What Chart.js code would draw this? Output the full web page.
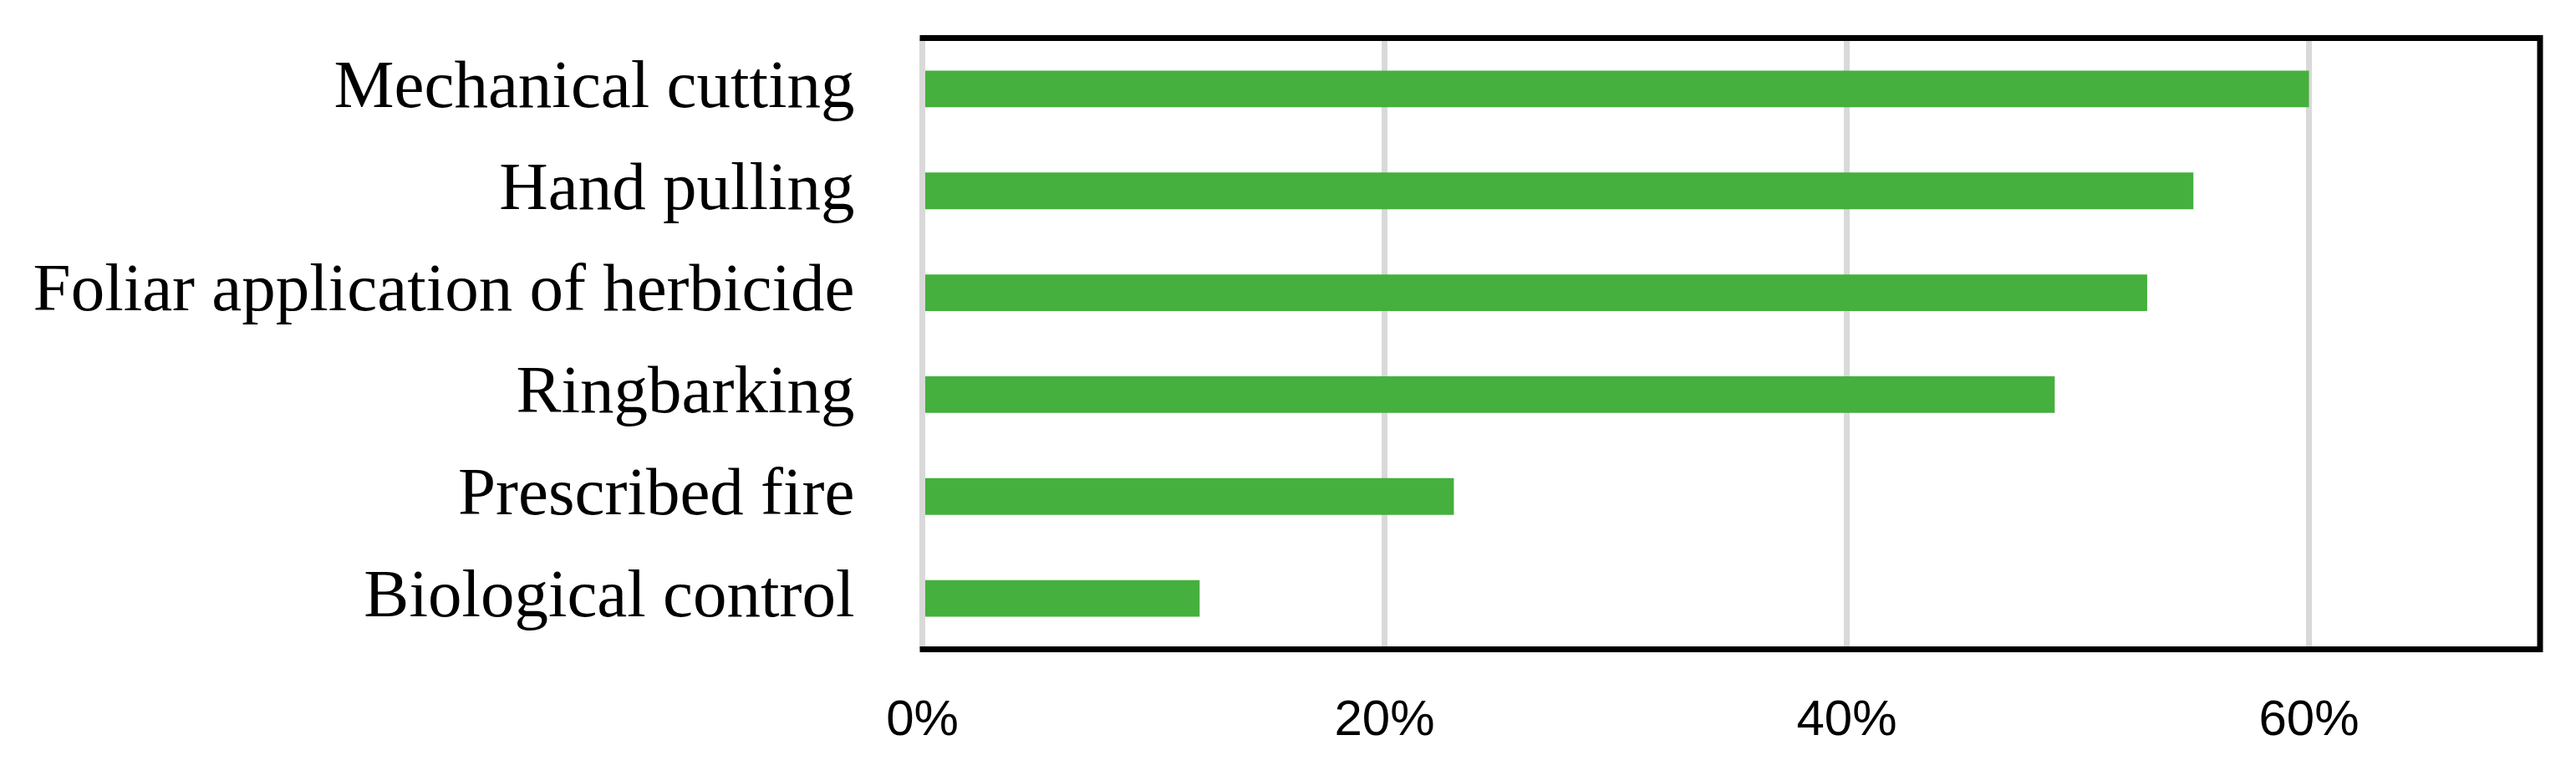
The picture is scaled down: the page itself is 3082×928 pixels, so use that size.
<!DOCTYPE html>
<html>
<head>
<meta charset="utf-8">
<script src="https://cdn.jsdelivr.net/npm/chart.js@4"></script>
<style>
  html, body { margin: 0; padding: 0; background: #fff; overflow: hidden; }
  #wrap { width: 3082px; height: 928px; }
</style>
</head>
<body>
<div id="wrap"><canvas id="myChart"></canvas></div>
<script>
// control methods (top to bottom)
const methods = [
  'Mechanical cutting',
  'Hand pulling',
  'Foliar application of herbicide',
  'Ringbarking',
  'Prescribed fire',
  'Biological control'
];
// share of respondents, %
const shares = [60, 55, 53, 49, 23, 12];
// x axis ticks shown
const xTicks = [0, 20, 40, 60];
const xMax = 70;

// black frame on top, right and bottom of the plot area
const framePlugin = {
  id: 'frame',
  afterDraw(chart) {
    const a = chart.chartArea;
    const ctx = chart.ctx;
    ctx.save();
    ctx.strokeStyle = '#000';
    ctx.lineWidth = 7;
    ctx.lineJoin = 'miter';
    ctx.beginPath();
    ctx.moveTo(a.left - 3, a.top);
    ctx.lineTo(a.right, a.top);
    ctx.lineTo(a.right, a.bottom);
    ctx.lineTo(a.left - 3, a.bottom);
    ctx.stroke();
    ctx.restore();
  }
};

const data = {
  labels: methods,
  datasets: [{
    data: shares,
    backgroundColor: '#45B03D',
    borderWidth: 0,
    categoryPercentage: 1,
    barPercentage: 0.36
  }]
};

const scales = {
  x: {
    min: 0,
    max: xMax,
    afterBuildTicks(s) {
      s.ticks = xTicks.map(v => ({ value: v }));
    },
    afterFit(s) {
      s.height = 928 - 776.5;
      s.paddingLeft = 0;
      s.paddingRight = 0;
    },
    ticks: {
      padding: 50,
      color: '#000',
      maxRotation: 0,
      font: { family: '"Liberation Sans", Arial, sans-serif', size: 60 },
      callback: v => v + '%'
    },
    grid: {
      color: '#d9d9d9',
      lineWidth: 7,
      drawTicks: false
    },
    border: { display: false }
  },
  y: {
    afterFit(s) {
      s.width = 1103.5;
      s.paddingTop = 0;
      s.paddingBottom = 0;
    },
    ticks: {
      padding: 81,
      color: '#000',
      font: { family: '"Liberation Serif", "Times New Roman", serif', size: 81 }
    },
    grid: { display: false, drawTicks: false },
    border: { display: false }
  }
};

const config = {
  type: 'bar',
  data,
  options: {
    indexAxis: 'y',
    responsive: true,
    maintainAspectRatio: false,
    animation: false,
    layout: { padding: { top: 45.5, right: 43, left: 0, bottom: 0 } },
    scales: scales,
    plugins: {
      legend: { display: false },
      tooltip: { enabled: false }
    }
  },
  plugins: [framePlugin]
};

const myChart = new Chart(document.getElementById('myChart'), config);
</script>
</body>
</html>
